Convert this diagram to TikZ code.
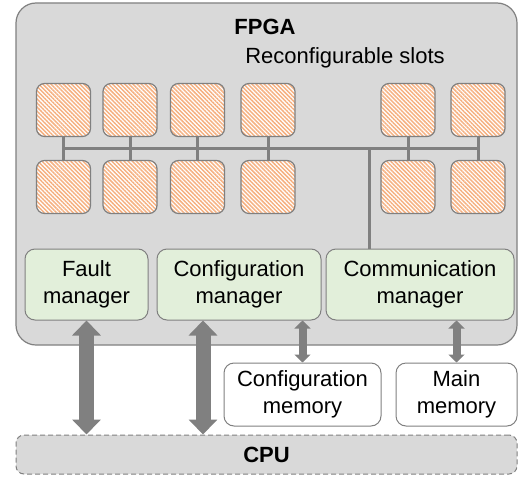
\documentclass[tikz,border=0pt]{standalone}
\usepackage{fontspec}
\setmainfont{Liberation Sans}
\usetikzlibrary{arrows.meta}
\usetikzlibrary{patterns.meta}

\definecolor{fpgagray}{HTML}{D9D9D9}
\definecolor{edgegray}{HTML}{808080}
\definecolor{mgrgreen}{HTML}{E2EFDA}
\definecolor{slotorange}{HTML}{F6B080}

\tikzset{
  txt/.style={font=\fontsize{22}{27}\selectfont, align=center},
  slot/.style={draw=edgegray, line width=1.2pt, rounded corners=8pt,
    minimum width=54pt, minimum height=53pt, preaction={fill=white},
    pattern={Lines[angle=-45,distance=2.9pt,line width=1.45pt]}, pattern color=slotorange},
  mgr/.style={txt, draw=edgegray, line width=1pt, fill=mgrgreen, rounded corners=10pt,
    minimum height=71pt, inner sep=0pt},
  mem/.style={txt, draw=edgegray, line width=1pt, fill=white, rounded corners=10pt,
    minimum height=63pt, inner sep=0pt},
  bus/.style={draw=edgegray, line width=3pt},
  bigarrow/.style={draw=edgegray, line width=15pt,
    arrows={Triangle[width=28pt,length=15pt]-Triangle[width=28pt,length=15pt]}},
  smallarrow/.style={draw=edgegray, line width=8pt,
    arrows={Triangle[width=16pt,length=8pt]-Triangle[width=16pt,length=8pt]}},
}

\begin{document}
\begin{tikzpicture}[x=1pt,y=-1pt]
\useasboundingbox (0,0) rectangle (518,476);

% FPGA board
\node[draw=edgegray, line width=1.2pt, fill=fpgagray, rounded corners=20pt,
  minimum width=501pt, minimum height=342pt] (fpga) at (266.5,174) {};
\node[txt, font=\fontsize{22}{27}\selectfont\bfseries] (fpgatitle) at (265,27) {FPGA};
\node[txt] (slotstitle) at (345,58) {Reconfigurable slots};

% slots, top and bottom rows
\foreach \x [count=\i] in {63.5,130,197.5,268,408,478} {
  \node[slot] (t\i) at (\x,110) {};
  \node[slot] (b\i) at (\x,187) {};
}

% managers
\node[mgr, minimum width=123pt] (fault) at (86.5,284.5) {Fault\\manager};
\node[mgr, minimum width=164pt] (cfgmgr) at (239,284.5) {Configuration\\manager};
\node[mgr, minimum width=188pt] (commgr) at (420,284.5) {Communication\\manager};

% bus between the slots
\coordinate (bus) at (0,148);
\coordinate (tap) at (369,148);
\draw[bus] (t1.south |- bus) -- (t6.south |- bus);
\foreach \i in {1,...,6}
  \draw[bus] (t\i.south) -- (b\i.north);
\draw[bus] (tap) -- (tap |- commgr.north);

% memories and CPU
\node[mem, minimum width=157pt] (cfgmem) at (302.5,394.5) {Configuration\\memory};
\node[mem, minimum width=121pt] (mainmem) at (456.5,394.5) {Main\\memory};
\node[txt, font=\fontsize{22}{27}\selectfont\bfseries, draw=edgegray, line width=1pt,
  dashed, dash pattern=on 5pt off 3pt, fill=fpgagray, rounded corners=8pt,
  minimum width=501pt, minimum height=39pt] (cpu) at (266.5,454.5) {CPU};

% links
\coordinate (cfgport) at ([xshift=-36pt]cfgmgr.south);
\draw[bigarrow] (fault.south) -- (fault.south |- cpu.north);
\draw[bigarrow] (cfgport) -- (cfgport |- cpu.north);
\draw[smallarrow] (cfgmem.north |- cfgmgr.south) -- (cfgmem.north);
\draw[smallarrow] (mainmem.north |- commgr.south) -- (mainmem.north);

\end{tikzpicture}
\end{document}
